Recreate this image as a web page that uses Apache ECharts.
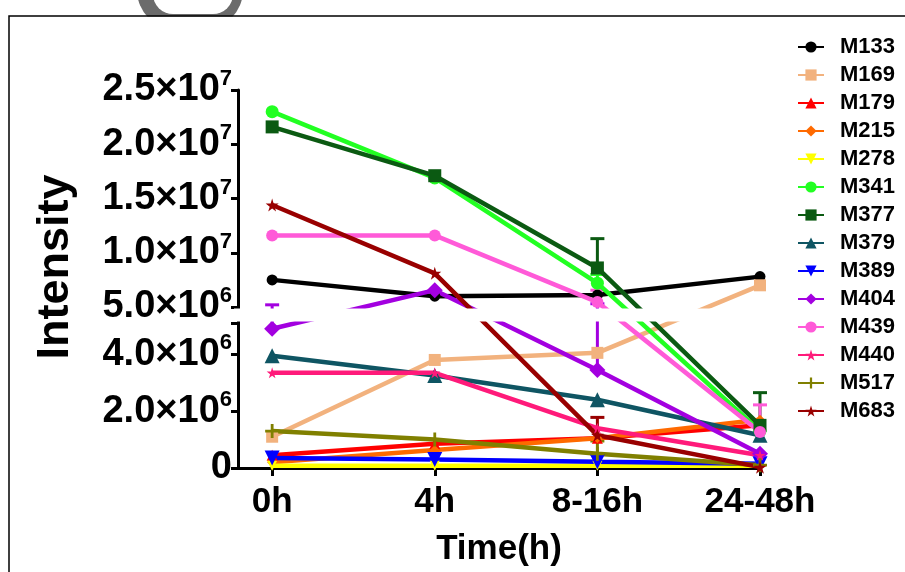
<!DOCTYPE html>
<html>
<head>
<meta charset="utf-8">
<script src="https://cdn.jsdelivr.net/npm/echarts@6/dist/echarts.min.js"></script>
<style>
  html, body { margin: 0; padding: 0; background: #fff; }
  #chart { width: 905px; height: 572px; }
</style>
</head>
<body>
<div id="chart"></div>
<script>
// time points
const categories = ['0h', '4h', '8-16h', '24-48h']

// intensity means per metabolite
const names = ['M133', 'M169', 'M179', 'M215', 'M278', 'M341', 'M377', 'M379', 'M389', 'M404', 'M439', 'M440', 'M517', 'M683']
const m133 = [7.5e6, 6.0e6, 6.1e6, 7.8e6]
const m169 = [1.1e6, 3.8e6, 4.05e6, 7.0e6]
const m179 = [0.45e6, 0.85e6, 1.05e6, 1.5e6]
const m215 = [0.2e6, 0.63e6, 1.05e6, 1.7e6]
const m278 = [0.08e6, 0.08e6, 0.08e6, 0.08e6]
const m341 = [2.3e7, 1.69e7, 7.2e6, 1.3e6]
const m377 = [2.16e7, 1.71e7, 8.6e6, 1.5e6]
const m379 = [3.95e6, 3.25e6, 2.4e6, 1.15e6]
const m389 = [0.35e6, 0.3e6, 0.22e6, 0.15e6]
const m404 = [4.9e6, 6.55e6, 3.45e6, 0.5e6]
const m439 = [1.16e7, 1.16e7, 5.45e6, 1.27e6]
const m440 = [3.35e6, 3.35e6, 1.4e6, 0.45e6]
const m517 = [1.3e6, 1.0e6, 0.5e6, 0.1e6]
const m683 = [1.44e7, 8.1e6, 1.15e6, 0.03e6]
const values = [m133, m169, m179, m215, m278, m341, m377, m379, m389, m404, m439, m440, m517, m683]

// upper error bars: which series, which time point, size
const errName = ['M404', 'M377', 'M377', 'M439', 'M439', 'M404', 'M683', 'M517', 'M341']
const errTime = [0, 2, 3, 2, 3, 2, 2, 2, 2]
const errSize = [0.3e6, 2.7e6, 1.15e6, 1.1e6, 0.95e6, 1.85e6, 0.63e6, 0.45e6, 0.8e6]

// y tick labels (two segments of the broken axis)
const lowerTicks = [0, 2e6, 4e6]
const lowerTickLabels = ['0', '2.0×10^6', '4.0×10^6']
const upperTicks = [5e6, 1e7, 1.5e7, 2e7, 2.5e7]
const upperTickLabels = ['5.0×10^6', '1.0×10^7', '1.5×10^7', '2.0×10^7', '2.5×10^7']

// styles
const colors = ['#000000', '#f2b27e', '#ff0000', '#ff6a00', '#ffff00', '#22ff22', '#0b5a12', '#0f5563', '#0000ff', '#a300e0', '#ff5ad8', '#ff1a7a', '#808000', '#990000']
const STAR = 'path://M50,0 L61,35 L98,35 L68,57 L79,91 L50,70 L21,91 L32,57 L2,35 L39,35 Z'
const PLUS = 'path://M4,0H6V4H10V6H6V10H4V6H0V4H4Z'
const symbols = ['circle', 'rect', 'triangle', 'diamond', 'triangle', 'circle', 'rect', 'triangle', 'triangle', 'diamond', 'circle', STAR, PLUS, STAR]
const symSizes = [11, 12, 11, 10, 10, 13, 13, 15, 15, 16, 12, 11, 14, 13]
const symRot = [0, 0, 0, 0, 180, 0, 0, 0, 180, 0, 0, 0, 0, 0]
const FONT = '"Liberation Sans", Arial, sans-serif'

// broken y axis: lower 0..5.1e6, gap, upper 5e6..2.5e7 (fractions of plot height)
const LOW_MAX = 5.1e6, UP_MIN = 5e6, UP_MAX = 2.5e7
const LOW_FR = 145 / 378, GAP_FR = 16 / 378, UP_FR = 217 / 378
const toLower = v => v / LOW_MAX * LOW_FR
const toUpper = v => LOW_FR + GAP_FR + (v - UP_MIN) / (UP_MAX - UP_MIN) * UP_FR
const toAxis = v => v > LOW_MAX ? toUpper(v) : toLower(v)

const tickPos = lowerTicks.map(toLower).concat(upperTicks.map(toUpper))
const tickText = lowerTickLabels.concat(upperTickLabels)

const chart = echarts.init(document.getElementById('chart'), null, { renderer: 'canvas' })

const lineSeries = names.map((n, i) => ({
  name: n,
  type: 'line',
  clip: false,
  data: values[i].map((v, j) => [j, toAxis(v)]),
  symbol: symbols[i],
  symbolSize: symSizes[i],
  symbolRotate: symRot[i],
  showAllSymbol: true,
  lineStyle: { width: 4.5, color: colors[i] },
  itemStyle: { color: colors[i] },
}))

const errSeries = {
  type: 'custom',
  clip: false,
  encode: { x: 0, y: [1, 2] },
  data: errName.map((n, k) => {
    const i = names.indexOf(n)
    const m = values[i][errTime[k]]
    return [errTime[k], toAxis(m), toAxis(m + errSize[k]), i]
  }),
  renderItem: (params, api) => {
    const x = api.value(0)
    const lo = api.coord([x, api.value(1)])
    const hi = api.coord([x, api.value(2)])
    const c = colors[api.value(3)]
    return {
      type: 'group',
      children: [
        { type: 'line', shape: { x1: lo[0], y1: lo[1], x2: hi[0], y2: hi[1] }, style: { stroke: c, lineWidth: 3 } },
        { type: 'line', shape: { x1: hi[0] - 7, y1: hi[1], x2: hi[0] + 7, y2: hi[1] }, style: { stroke: c, lineWidth: 3 } },
      ],
    }
  },
}

chart.setOption({
  animation: false,
  backgroundColor: '#fff',
  grid: { left: 238, right: 145, top: 90, bottom: 104 },
  legend: {
    orient: 'vertical', left: 797, top: 36, padding: 0,
    itemWidth: 26, itemHeight: 14, itemGap: 6,
    data: names,
    textStyle: { fontSize: 22, fontWeight: 'bold', color: '#000', fontFamily: FONT, lineHeight: 22, padding: [0, 0, 0, 11] },
  },
  xAxis: {
    type: 'value', min: -0.21, max: 3,
    name: 'Time(h)', nameLocation: 'middle', nameGap: 64,
    nameTextStyle: { fontSize: 35, fontWeight: 'bold', color: '#000', fontFamily: FONT, lineHeight: 35 },
    axisLine: { show: true, onZero: false, lineStyle: { color: '#000', width: 3 } },
    axisTick: { show: true, customValues: [0, 1, 2, 3], length: 8, lineStyle: { color: '#000', width: 3 } },
    axisLabel: {
      customValues: [0, 1, 2, 3], margin: 17,
      formatter: v => categories[v],
      fontSize: 35, fontWeight: 'bold', color: '#000', fontFamily: FONT, lineHeight: 35,
    },
    splitLine: { show: false },
  },
  yAxis: {
    type: 'value', min: 0, max: 1,
    axisLine: { show: true, onZero: false, lineStyle: { color: '#000', width: 3 } },
    axisTick: { show: true, customValues: tickPos.concat([LOW_FR]), length: 7, lineStyle: { color: '#000', width: 3 } },
    axisLabel: {
      customValues: tickPos, margin: 6,
      formatter: v => {
        const [a, b] = tickText[tickPos.indexOf(v)].split('^')
        return b ? `{b|${a}}{s|${b}}` : `{b|${a}}`
      },
      rich: {
        b: { fontSize: 38, fontWeight: 'bold', color: '#000', fontFamily: FONT, lineHeight: 44 },
        s: { fontSize: 22, fontWeight: 'bold', color: '#000', fontFamily: FONT, lineHeight: 20, verticalAlign: 'top' },
      },
    },
    splitLine: { show: false },
  },
  series: lineSeries.concat([errSeries]),
})

// axis break gap, frame, and y title
const gTop = chart.convertToPixel({ gridIndex: 0 }, [0, LOW_FR + GAP_FR])
const gBot = chart.convertToPixel({ gridIndex: 0 }, [0, LOW_FR])
chart.setOption({
  graphic: [
    { type: 'rect', z: 0, shape: { x: 137, y: -40, width: 106, height: 70, r: [0, 0, 40, 40] }, style: { fill: '#6b6b6b' } },
    { type: 'rect', z: 1, shape: { x: 153, y: -40, width: 80, height: 54, r: [0, 0, 20, 20] }, style: { fill: '#fff' } },
    { type: 'rect', z: 1, shape: { x: 100, y: 16.5, width: 200, height: 30 }, style: { fill: '#fff' } },
    { type: 'rect', z: 2, shape: { x: 9, y: 16, width: 940, height: 620 }, style: { fill: 'transparent', stroke: '#000', lineWidth: 1.5 } },
    { type: 'rect', z: 100, shape: { x: 234, y: gTop[1] + 1.5, width: 558, height: gBot[1] - gTop[1] - 3 }, style: { fill: '#fff' } },
    {
      type: 'text', z: 100, x: 56, y: 267, rotation: Math.PI / 2,
      style: { text: 'Intensity', fontSize: 45, fontWeight: 'bold', fill: '#000', fontFamily: FONT, align: 'center', verticalAlign: 'middle' },
    },
  ],
})
</script>
</body>
</html>
